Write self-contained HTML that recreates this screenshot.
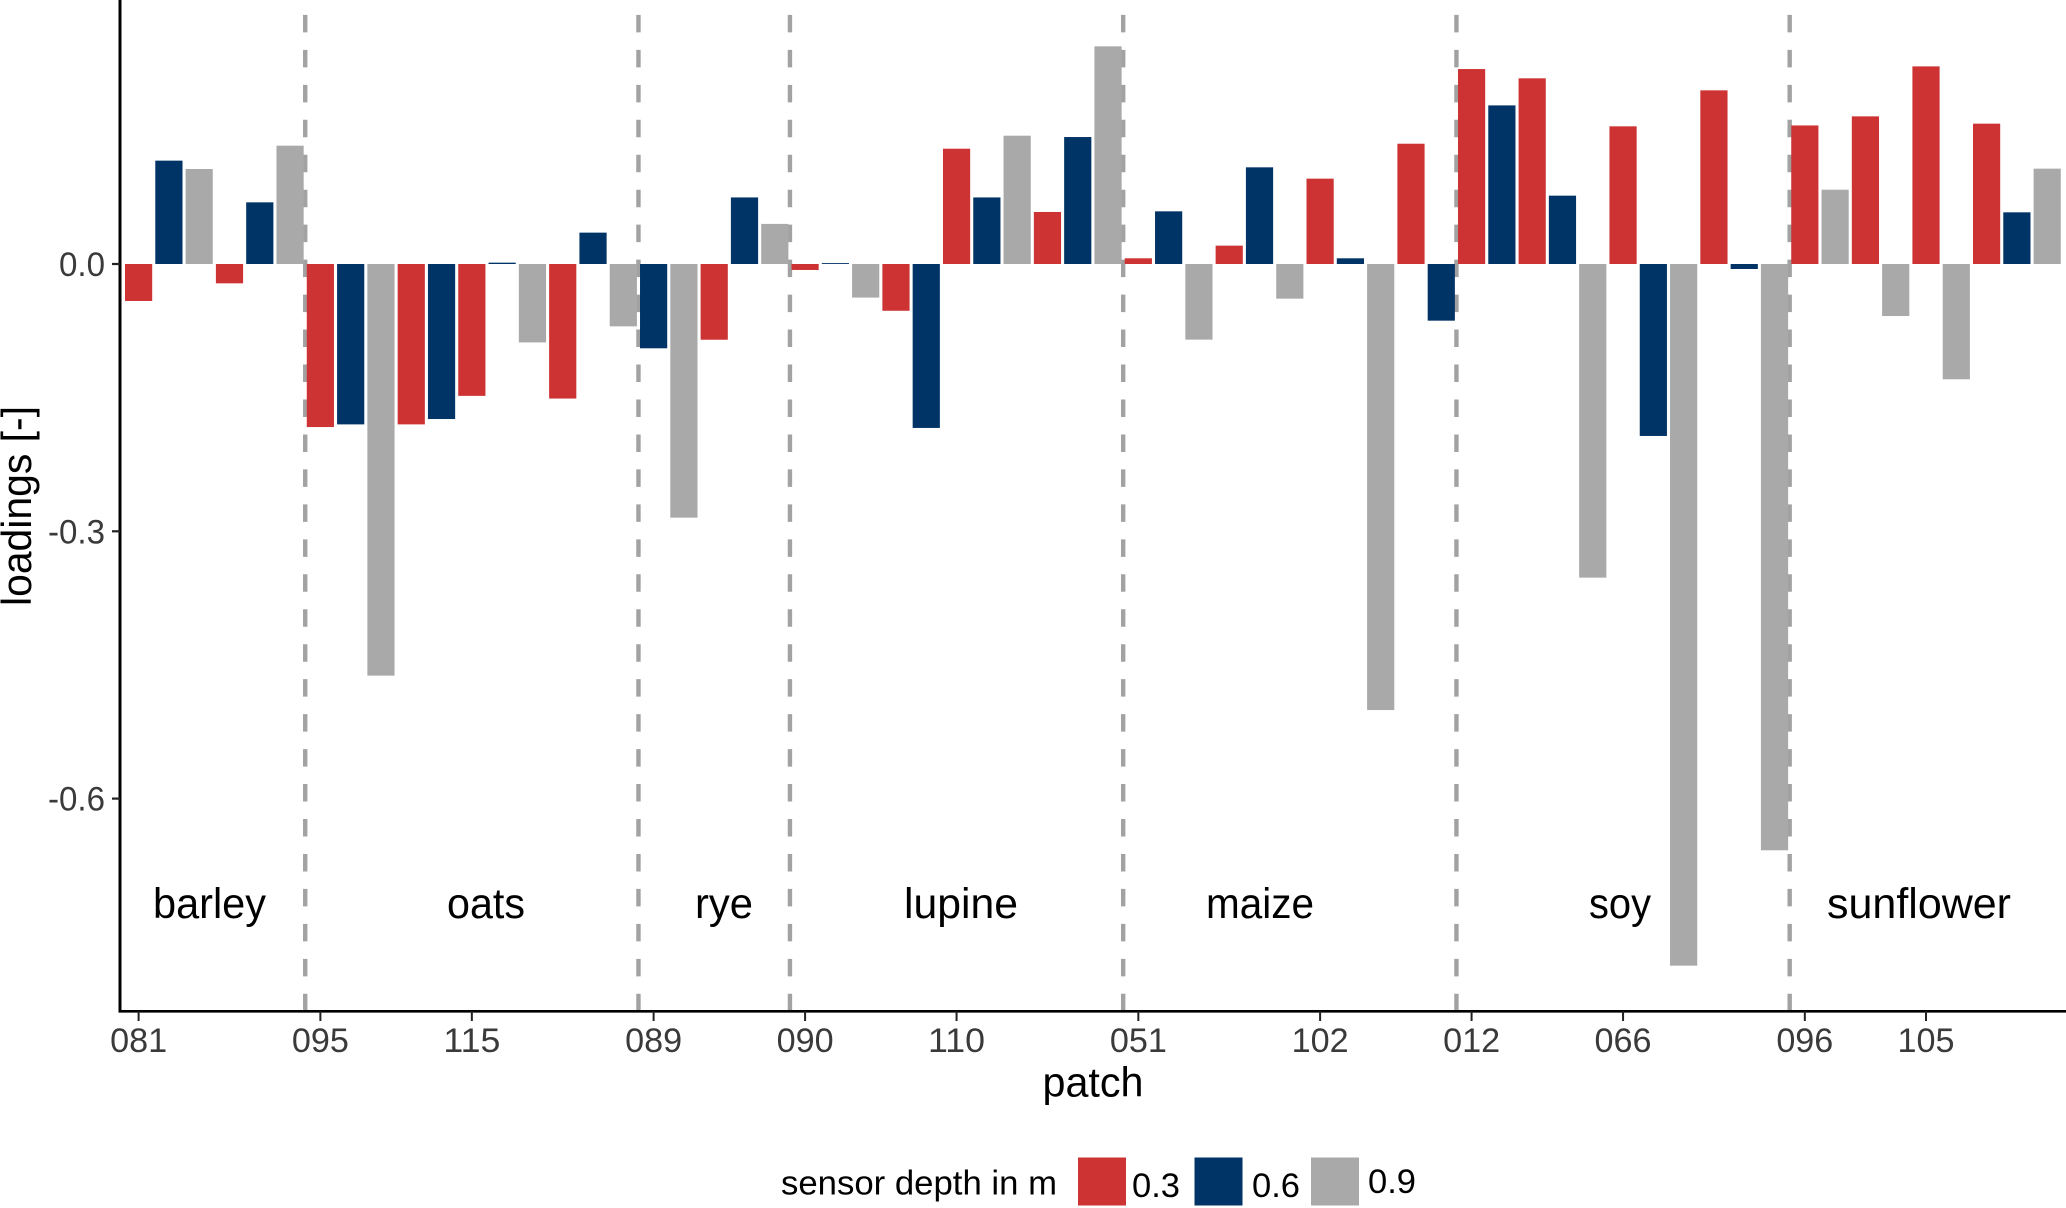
<!DOCTYPE html>
<html lang="en">
<head>
<meta charset="utf-8">
<title>Loadings by patch and sensor depth</title>
<style>
  html, body { margin: 0; padding: 0; background: #ffffff; }
  #chart { display: block; width: 2066px; height: 1208px; font-family: "Liberation Sans", Arial, sans-serif; }
</style>
</head>
<body>
<svg id="chart" xmlns="http://www.w3.org/2000/svg" width="2066" height="1208" viewBox="0 0 2066 1208">
  <g id="separators"></g>
  <g id="bars"></g>
  <g id="axes"></g>

  <text x="1093" y="1096.5" font-size="42" text-anchor="middle" textLength="101" lengthAdjust="spacingAndGlyphs" fill="#000">patch</text>
  <text transform="translate(31,506) rotate(-90)" font-size="42" text-anchor="middle" textLength="200" lengthAdjust="spacingAndGlyphs" fill="#000">loadings [-]</text>

  <g font-size="43" fill="#000">
    <text x="153" y="918" textLength="113" lengthAdjust="spacingAndGlyphs">barley</text>
    <text x="447" y="918" textLength="78" lengthAdjust="spacingAndGlyphs">oats</text>
    <text x="695" y="918" textLength="58" lengthAdjust="spacingAndGlyphs">rye</text>
    <text x="904" y="918" textLength="114" lengthAdjust="spacingAndGlyphs">lupine</text>
    <text x="1206" y="918" textLength="108" lengthAdjust="spacingAndGlyphs">maize</text>
    <text x="1589" y="918" textLength="62" lengthAdjust="spacingAndGlyphs">soy</text>
    <text x="1827" y="918" textLength="184" lengthAdjust="spacingAndGlyphs">sunflower</text>
  </g>

  <g>
    <text x="781" y="1194.5" font-size="34" textLength="276" lengthAdjust="spacingAndGlyphs" fill="#000">sensor depth in m</text>
    <rect x="1078" y="1157.5" width="48" height="48" fill="#cd3333"/>
    <text x="1132" y="1197" font-size="34" textLength="48" lengthAdjust="spacingAndGlyphs" fill="#000">0.3</text>
    <rect x="1194.5" y="1157.5" width="48" height="48" fill="#003366"/>
    <text x="1252" y="1197" font-size="34" textLength="48" lengthAdjust="spacingAndGlyphs" fill="#000">0.6</text>
    <rect x="1311" y="1157.5" width="48" height="48" fill="#a9a9a9"/>
    <text x="1368" y="1193" font-size="34" textLength="48" lengthAdjust="spacingAndGlyphs" fill="#000">0.9</text>
  </g>
</svg>

<script>
// Loadings per x-axis slot, one array per sensor depth (null = no bar in that slot).
const series03 = [
  -0.0415, null, null, -0.0217, null, null, -0.183, null,
  null, -0.18, null, -0.148, null, null, -0.151, null,
  null, null, null, -0.085, null, null, -0.0067, null,
  null, -0.0525, null, 0.1294, null, null, 0.0584, null,
  null, 0.0064, null, null, 0.0206, null, null, 0.0958,
  null, null, 0.135, null, 0.2188, null, 0.2084, null,
  null, 0.1545, null, null, 0.1949, null, null, 0.1555,
  null, 0.1657, null, 0.2218, null, 0.1575, null, null
];
const series06 = [
  null, 0.116, null, null, 0.0692, null, null, -0.18,
  null, null, -0.174, null, 0.0015, null, null, 0.0352,
  null, -0.0946, null, null, 0.0747, null, null, 0.001,
  null, null, -0.184, null, 0.0747, null, null, 0.1425,
  null, null, 0.0591, null, null, 0.1085, null, null,
  0.0064, null, null, -0.0636, null, 0.178, null, 0.0767,
  null, null, -0.193, null, null, -0.0056, null, null,
  null, null, null, null, null, null, 0.058, null
];
const series09 = [
  null, null, 0.1066, null, null, 0.1328, null, null,
  -0.462, null, null, null, null, -0.088, null, null,
  -0.07, null, -0.2847, null, null, 0.045, null, null,
  -0.0377, null, null, null, null, 0.144, null, null,
  0.2443, null, null, -0.0849, null, null, -0.0389, null,
  null, -0.5006, null, null, null, null, null, null,
  -0.352, null, null, -0.7875, null, null, -0.658, null,
  0.0834, null, -0.0584, null, -0.1294, null, null, 0.107
];
const seriesNames = ['0.3', '0.6', '0.9'];
const seriesColors = ['#cd3333', '#003366', '#a9a9a9'];

// Patch tick labels and the slot number each one sits on.
const xTickSlots = [0, 6, 11, 17, 22, 27, 33, 39, 44, 49, 55, 59];
const xTickLabels = ['081', '095', '115', '089', '090', '110', '051', '102', '012', '066', '096', '105'];
const yTickValues = [0, -0.3, -0.6];
const yTickLabels = ['0.0', '-0.3', '-0.6'];
// First slot of each crop after the first one.
const cropStartSlots = [6, 17, 22, 33, 44, 55];

const SVG_NS = 'http://www.w3.org/2000/svg';
const slotWidth = 30.295;
const barWidth = 27.2;
const xScale = function (slot) { return 138.6 + slot * slotWidth; };
const yScale = function (value) { return 264 - value * 891; };
const plotBottom = 1011.3;
const plotLeft = 120;
const plotRight = 2066;

function make(tag, attrs, parent) {
  const el = document.createElementNS(SVG_NS, tag);
  Object.keys(attrs).forEach(function (k) { el.setAttribute(k, attrs[k]); });
  parent.appendChild(el);
  return el;
}

const separators = document.getElementById('separators');
cropStartSlots.forEach(function (slot) {
  const x = xScale(slot - 0.5);
  const line = make('line', { x1: x, x2: x, y1: plotBottom, y2: 0, stroke: '#a2a2a2', 'stroke-width': 4.4, 'stroke-dasharray': '17.5 17.46' }, separators);
  
  
});

const barsGroup = document.getElementById('bars');
[series03, series06, series09].forEach(function (values, s) {
  values.forEach(function (v, slot) {
    if (v === null) return;
    const top = Math.min(yScale(v), yScale(0));
    const h = Math.abs(yScale(v) - yScale(0));
    const rect = make('rect', { x: xScale(slot) - barWidth / 2, y: top, width: barWidth, height: h, fill: seriesColors[s] }, barsGroup);
    
    
  });
});

const axes = document.getElementById('axes');
const yAxisLine = make('line', { x1: plotLeft, x2: plotLeft, y1: 0, y2: plotBottom + 1.2, stroke: '#000', 'stroke-width': 3 }, axes);


const xAxisLine = make('line', { x1: plotLeft - 1.5, x2: plotRight, y1: plotBottom, y2: plotBottom, stroke: '#000', 'stroke-width': 2.6 }, axes);



yTickValues.forEach(function (v, i) {
  const y = yScale(v);
  const tick = make('line', { x1: 112, x2: plotLeft, y1: y, y2: y, stroke: '#222', 'stroke-width': 2.2 }, axes);
  
  
  const label = make('text', { x: 105, y: y + 12, 'text-anchor': 'end', 'font-size': 34, fill: '#3a3a3a', textLength: i === 0 ? 46 : 57, lengthAdjust: 'spacingAndGlyphs' }, axes);
  label.textContent = yTickLabels[i];
  
  
});

xTickSlots.forEach(function (slot, i) {
  const x = xScale(slot);
  const tick = make('line', { x1: x, x2: x, y1: plotBottom, y2: 1021, stroke: '#222', 'stroke-width': 2 }, axes);
  
  
  const label = make('text', { x: x, y: 1052, 'text-anchor': 'middle', 'font-size': 34, fill: '#3a3a3a', textLength: 57, lengthAdjust: 'spacingAndGlyphs' }, axes);
  label.textContent = xTickLabels[i];
  
  
});
</script>
</body>
</html>
